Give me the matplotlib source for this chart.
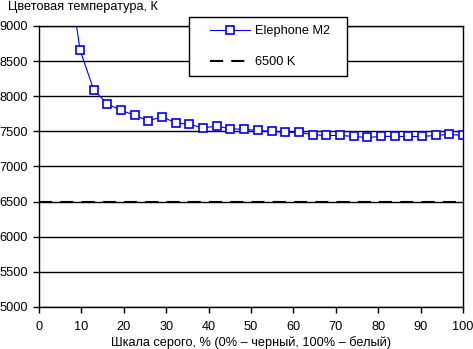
import numpy as np
import matplotlib
matplotlib.use("Agg")
import matplotlib.pyplot as plt
from matplotlib.patches import Rectangle

# grey level, % (points at k*100/31)
gray_x = [k * 100 / 31 for k in range(2, 32)]
# colour temperature, K
temp_k = [10000, 8660, 8090, 7890, 7800, 7730, 7650, 7710, 7620, 7600,
          7550, 7575, 7537, 7529, 7514, 7500, 7486, 7486, 7452, 7442,
          7442, 7428, 7413, 7428, 7428, 7428, 7428, 7442, 7457, 7442]
ref_x = [0, 100]
ref_k = [6500, 6500]

series_label = "Elephone M2"
ref_label = "6500 K"
y_title = "Цветовая температура, К"
x_title = "Шкала серого, % (0% – черный, 100% – белый)"
x_ticks = list(range(0, 101, 10))
y_ticks = list(range(5000, 9001, 500))

plt.rcParams['font.family'] = ['Liberation Sans', 'DejaVu Sans']
plt.rcParams['font.size'] = 9.2

W, H = 473, 349
fig = plt.figure(figsize=(W / 100, H / 100), dpi=100)
ax = fig.add_axes([39 / W, 1 - 307 / H, (463 - 39) / W, (307 - 26) / H])

ax.set_xlim(0, 100)
ax.set_ylim(5000, 9000)
ax.set_xticks(x_ticks)
ax.set_yticks(y_ticks)
ax.tick_params(direction='out', length=4, width=1, color='black', pad=4)
ax.tick_params(axis='x', pad=6)
for s in ax.spines.values():
    s.set_linewidth(1)
    s.set_color('black')
ax.grid(axis='y', color='black', linewidth=1)
ax.set_axisbelow(True)

ref_line, = ax.plot(ref_x, ref_k, color='black', linewidth=1.5,
                    dashes=(6.3, 3.9), label=ref_label)
data_line, = ax.plot(gray_x, temp_k, color='#0000ff', linewidth=0.8,
                     marker='s', markersize=5.2, markerfacecolor='white',
                     markeredgecolor='#0000ff', markeredgewidth=1.2,
                     label=series_label, clip_on=True)

ax.set_xlabel(x_title, labelpad=2)
fig.text(8 / W, 1 - 7 / H, y_title, ha='left', va='center')

# legend frame and entries
fig.patches.append(Rectangle((189 / W, 1 - 76 / H), (347 - 189) / W, (76 - 17) / H,
                             transform=fig.transFigure, facecolor='white',
                             edgecolor='black', linewidth=1, zorder=5))
leg = fig.legend([data_line, ref_line], [series_label, ref_label],
                 loc='upper left', bbox_to_anchor=(210 / W, 1 - 25 / H),
                 frameon=False, borderpad=0, borderaxespad=0,
                 handlelength=3.1, handletextpad=0.4, labelspacing=1.5,
                 markerscale=1.0)
leg.set_zorder(6)

fig.savefig("out.png", dpi=100)
